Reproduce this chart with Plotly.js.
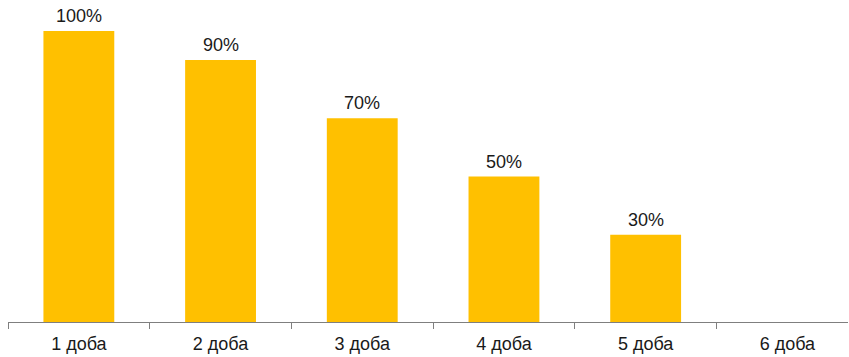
<!DOCTYPE html>
<html>
<head>
<meta charset="utf-8">
<script src="https://cdn.plot.ly/plotly-3.0.1.min.js"></script>
<style>html,body{margin:0;padding:0;background:#fff;}#chart{width:849px;height:357px;}</style>
</head>
<body>
<div id="chart"></div>
<script>
const categories = ["1 доба", "2 доба", "3 доба", "4 доба", "5 доба", "6 доба"];
const values = [100, 90, 70, 50, 30, 0];
const labels = ["100%", "90%", "70%", "50%", "30%", ""];

const FONT = "Liberation Sans, Arial, sans-serif";

const trace = {
  type: "bar",
  x: categories,
  y: values,
  marker: {color: "#FFC000"},
  width: 0.5,
  hoverinfo: "none"
};

const annotations = categories.map((c, i) => ({
  x: c, y: values[i], xref: "x", yref: "y",
  text: labels[i], showarrow: false,
  yanchor: "bottom", yshift: 3,
  font: {family: FONT, size: 18, color: "#1a1a1a"}
})).filter(a => a.text);

const layout = {
  width: 849, height: 357,
  margin: {l: 8, r: 1, t: 0, b: 35},
  paper_bgcolor: "#fff", plot_bgcolor: "#fff",
  showlegend: false,
  annotations: annotations,
  xaxis: {
    type: "category",
    range: [-0.5, 5.428],
    tickson: "boundaries",
    ticks: "outside", ticklen: 6, tickcolor: "#7f7f7f", tickwidth: 1,
    ticklabelstandoff: 5,
    showline: true, linecolor: "#7f7f7f", linewidth: 1,
    showgrid: false, zeroline: false,
    tickfont: {family: FONT, size: 18, color: "#1a1a1a"}
  },
  yaxis: {
    range: [0, 110.65],
    visible: false, showgrid: false, zeroline: false
  }
};

Plotly.newPlot("chart", [trace], layout, {staticPlot: true, displayModeBar: false});
</script>
</body>
</html>
